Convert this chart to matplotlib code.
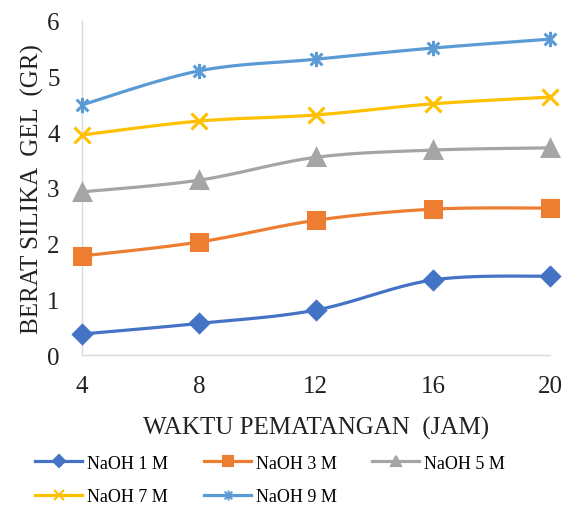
import matplotlib
matplotlib.use('Agg')
from matplotlib import pyplot as plt
from matplotlib.path import Path
import numpy as np

## Données

waktu = [4, 8, 12, 16, 20]
naoh_1 = [0.38, 0.57, 0.81, 1.35, 1.42]
naoh_3 = [1.78, 2.03, 2.42, 2.62, 2.64]
naoh_5 = [2.93, 3.14, 3.55, 3.68, 3.72]
naoh_7 = [3.95, 4.20, 4.31, 4.51, 4.63]
naoh_9 = [4.49, 5.10, 5.31, 5.51, 5.67]
labels = ['NaOH 1 M', 'NaOH 3 M', 'NaOH 5 M', 'NaOH 7 M', 'NaOH 9 M']

## Courbe lissée (Catmull-Rom)

def Lisse(x, y, n=30):
    x = np.asarray(x, float)
    y = np.asarray(y, float)
    P = np.column_stack([x, y])
    P = np.vstack([P[0], P, P[-1]])
    X, Y = [], []
    for i in range(1, len(P) - 2):
        p0, p1, p2, p3 = P[i-1], P[i], P[i+1], P[i+2]
        c1 = p1 + (p2 - p0) / 6
        c2 = p2 - (p3 - p1) / 6
        t = np.linspace(0, 1, n)[:, None]
        B = (1-t)**3*p1 + 3*(1-t)**2*t*c1 + 3*(1-t)*t**2*c2 + t**3*p2
        X.extend(B[:, 0]); Y.extend(B[:, 1])
    return X, Y

# marqueur étoile : croix + trait vertical
etoile = Path([(-1, -1), (1, 1), (-1, 1), (1, -1), (0, -1.3), (0, 1.3)],
              [Path.MOVETO, Path.LINETO, Path.MOVETO, Path.LINETO, Path.MOVETO, Path.LINETO])

plt.rcParams['font.family'] = ['Liberation Serif', 'DejaVu Serif']

fig = plt.figure(figsize=(5.64, 5.06), dpi=100)
ax = fig.add_axes([0.145, 0.296, 0.83, 0.661])

series = [naoh_1, naoh_3, naoh_5, naoh_7, naoh_9]
colors = ['#4472C4', '#ED7D31', '#A5A5A5', '#FFC000', '#5B9BD5']
markers = ['D', 's', '^', 'x', etoile]
sizes = [9, 11, 11, 12, 11]

handles = []
for s, c, m, ms, lab in zip(series, colors, markers, sizes, labels):
    xs, ys = Lisse(waktu, s)
    ax.plot(xs, ys, color=c, lw=2.3, solid_capstyle='round', clip_on=False)
    ax.plot(waktu, s, ls='none', marker=m, ms=ms, color=c, mew=2.2, clip_on=False, zorder=3)
    h, = ax.plot([], [], color=c, lw=2.3, marker=m, ms=ms*0.65, mew=1.5, label=lab)
    handles.append(h)

ax.set_xlim(4, 20)
ax.set_ylim(0, 6)
ax.set_xticks(waktu)
ax.set_yticks(range(0, 7))
ax.tick_params(length=0, labelsize=18, colors='#222222')
ax.tick_params(axis='x', pad=14)
ax.tick_params(axis='y', pad=16)
for sp in ['top', 'right']:
    ax.spines[sp].set_visible(False)
for sp in ['left', 'bottom']:
    ax.spines[sp].set_color('#D9D9D9')
    ax.spines[sp].set_linewidth(1)

ax.set_xlabel('WAKTU PEMATANGAN  (JAM)', fontsize=18, color='#222222', labelpad=14)
ax.set_ylabel('BERAT SILIKA  GEL  (GR)', fontsize=18, color='#222222', labelpad=2)

# ordre par lignes pour la légende sur 3 colonnes
ordre = [0, 3, 1, 4, 2]
fig.legend([handles[i] for i in ordre], [labels[i] for i in ordre],
           loc='lower center', bbox_to_anchor=(0.479, -0.014), ncol=3, frameon=False,
           fontsize=13, handlelength=2.6, columnspacing=2.0, handletextpad=0.25,
           labelspacing=0.9, borderaxespad=0)

fig.savefig('out.png', dpi=100)
